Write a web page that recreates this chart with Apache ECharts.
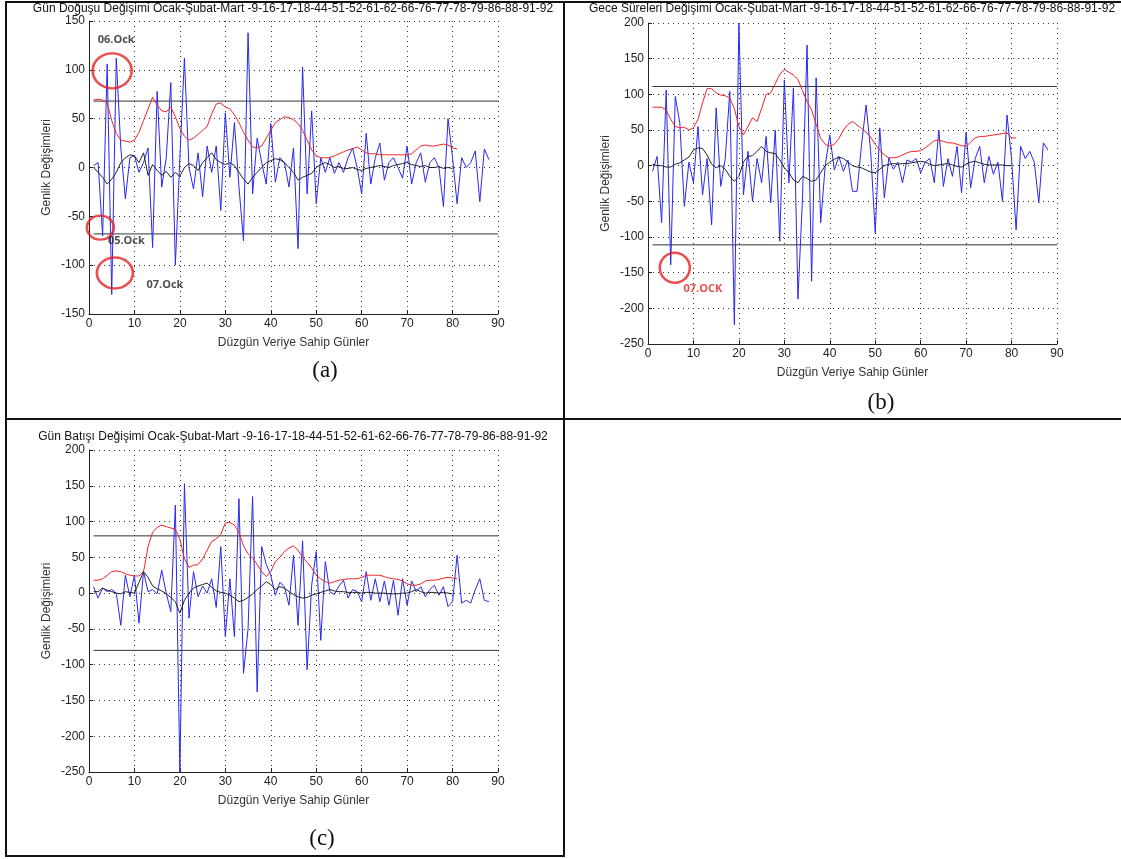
<!DOCTYPE html>
<html>
<head>
<meta charset="utf-8">
<script src="https://cdn.jsdelivr.net/npm/echarts@6/dist/echarts.min.js"></script>
<style>
html, body { margin: 0; padding: 0; background: #fff; }
#main { width: 1121px; height: 859px; }
</style>
</head>
<body>
<div id="main"></div>
<script>
// x = day index 1..N for every series
var xTicks = [0, 10, 20, 30, 40, 50, 60, 70, 80, 90];

// (a) Gün Doğuşu
var riseBlue = [2, 5, -70, 106, -130, 112, 20, -32, 10, 12, -5, 5, 20, -82, 78, -20, 10, 87, -100, 10,
    112, 0, -22, 15, -30, 22, -5, 22, -44, 56, -10, 46, -20, -75, 138, -27, 30, 5, -17, 45,
    -15, 10, 5, -20, 20, -83, 103, -27, 58, -37, 10, -5, 10, -6, 5, -5, 10, 20, 0, -27,
    35, -17, 10, 25, -13, 5, 10, 0, -11, 22, -17, 5, 15, -15, 5, 10, 0, -40, 50, 10,
    -37, 10, 0, 5, 17, -35, 19, 8];
var riseRed = [69, 70, 69, 66, 48, 35, 28, 27, 26, 28, 36, 48, 60, 72, 64, 58, 57, 62, 52, 40,
    32, 28, 30, 34, 38, 42, 55, 65, 66, 62, 60, 54, 46, 36, 28, 21, 20, 22, 30, 38,
    46, 49, 52, 51, 49, 45, 38, 28, 18, 12, 10, 10, 10, 12, 14, 16, 18, 19, 21, 18,
    15, 14, 14, 13, 13, 13, 13, 13, 13, 13, 14, 18, 22, 23, 22, 22, 23, 24, 23, 20, 19];
var riseBlack = [0, -5, -10, -17, -12, -5, 5, 10, 13, 12, 5, 15, -8, 3, -3, -8, -4, -10, -5, -9,
    0, 4, 2, -3, 5, 10, 15, 8, 5, 3, 5, 2, -5, -12, -17, -10, -5, 0, 5, 7,
    9, 8, 5, 0, -5, -13, -10, -8, -6, 0, 3, 5, 3, 0, 1, -1, -1, 0, -2, -3,
    -1, 0, 1, 2, 1, 0, 2, 3, 4, 5, 3, 2, 1, 2, 0, 0, 1, -1, 0, -1];
var riseLimit = 68;

// (b) Gece Süreleri
var nightBlue = [-8, 13, -80, 106, -139, 97, 60, -57, 5, -24, 55, -41, 10, -83, 81, -29, 10, 104, -223, 200,
    -41, 20, -50, 10, -24, 41, -52, 50, -106, 120, -24, 109, -187, -45, 169, -162, 123, -80, 0, 43,
    -6, 13, -8, 8, -36, -36, 30, 85, 20, -94, 53, -45, 11, -5, 5, -24, 8, 5, 10, -10,
    5, 10, -24, 50, -29, 10, -15, 27, -38, 47, -31, 10, 27, -24, 13, -12, 5, -50, 71, 10,
    -90, 27, 10, 20, 5, -52, 32, 22];
var nightRed = [82, 82, 82, 78, 65, 55, 53, 54, 50, 53, 65, 88, 108, 108, 102, 99, 98, 95, 80, 55,
    43, 55, 67, 62, 80, 100, 102, 115, 128, 135, 131, 127, 121, 105, 90, 78, 58, 38, 30, 27,
    30, 38, 50, 58, 62, 57, 52, 47, 40, 30, 22, 15, 11, 11, 12, 15, 18, 20, 20, 21,
    25, 30, 35, 36, 34, 32, 32, 30, 28, 27, 33, 39, 41, 41, 42, 43, 44, 45, 46, 39, 39];
var nightBlack = [2, 0, 0, -2, -2, 2, 4, 8, 12, 22, 25, 24, 15, 2, -3, 0, -5, -15, -22, -15,
    5, 13, 14, 20, 27, 20, 18, 17, 8, -3, -10, -20, -24, -15, -18, -22, -20, -10, 0, 5,
    9, 12, 10, 5, 0, -2, -3, -6, -9, -10, -5, 0, 2, 3, 2, 3, 3, 4, 5, 6,
    5, 2, 0, 1, 2, 3, 1, -1, -2, 2, 5, 6, 4, 2, 1, 1, 1, 1, 0, 0];
var nightLimit = 111;

// (c) Gün Batışı
var setBlue = [9, -7, 7, 2, 5, 0, -45, 25, -5, 25, -42, 30, 2, 5, -1, 32, 0, -26, 123, -250,
    153, -35, 30, -5, 10, 0, 20, -20, 65, -61, 20, -61, 132, -112, -50, 135, -138, 65, 40, 25,
    -3, 15, 9, -17, 53, -45, 73, -107, 11, 58, -66, 44, 2, -2, 10, 18, -7, 5, 2, -12,
    30, -10, 20, -12, 17, -17, 18, -31, 20, -17, 17, 2, 9, -5, 5, 11, -3, 9, -19, -12,
    53, -14, -10, -14, 5, 20, -10, -12];
var setRed = [18, 18, 20, 25, 30, 31, 30, 27, 25, 24, 24, 30, 65, 85, 92, 95, 93, 91, 89, 75,
    48, 36, 39, 40, 48, 60, 72, 76, 82, 98, 99, 95, 85, 66, 55, 49, 40, 30, 23, 30,
    44, 50, 58, 63, 66, 60, 50, 43, 35, 25, 20, 16, 14, 16, 18, 19, 20, 20, 20, 22,
    25, 25, 25, 25, 23, 21, 20, 19, 17, 13, 11, 11, 13, 17, 18, 18, 19, 21, 22, 21, 20];
var setBlack = [2, 2, 7, 4, 2, 0, -1, 2, 1, 0, 15, 30, 22, 10, 6, 3, -1, -6, -12, -28,
    -10, 0, 7, 10, 12, 14, 8, 3, 1, 0, -3, -7, -12, -10, -6, -1, 5, 10, 16, 12,
    5, 9, 7, 2, -2, -5, -7, -6, -3, -1, 1, 3, 5, 3, 2, 2, 1, 1, 1, 0,
    1, 1, 0, 0, 0, -1, -1, -1, 0, 0, 2, 5, 2, 0, 1, 1, 0, 1, 0, -1];
var setLimit = 80;
var limitSpan = [1, 90];

// marked days: [x, y, label]
var riseMarks = [[5.1, 99, '06.Ock'], [2.5, -61.5, '05.Ock'], [5.7, -108, '07.Ock']];
var nightMarks = [[5.9, -143, '07.OCK']];

var titleTail = ' Değişimi Ocak-Şubat-Mart -9-16-17-18-44-51-52-61-62-66-76-77-78-79-86-88-91-92';

function pairs(arr) {
    return arr.map(function (v, i) { return [i + 1, v]; });
}

var chart = echarts.init(document.getElementById('main'));

var grids = [
    { left: 89, top: 21, width: 409, height: 293 },
    { left: 648, top: 23, width: 409, height: 321 },
    { left: 89, top: 450, width: 409, height: 322 }
];

function xAx(g) {
    return {
        type: 'value', gridIndex: g, min: 0, max: 90, interval: 10,
        name: 'Düzgün Veriye Sahip Günler', nameLocation: 'middle', nameGap: 23,
        nameTextStyle: { fontSize: 12, color: '#333', fontFamily: 'Liberation Sans' },
        axisLine: { onZero: false, lineStyle: { color: '#222', width: 1 } },
        axisTick: { inside: true, length: 4, lineStyle: { color: '#222' } },
        axisLabel: { fontSize: 12, color: '#222', margin: 4, fontFamily: 'Liberation Sans' },
        splitLine: { show: true, lineStyle: { type: [1, 4], color: '#333', width: 1 } }
    };
}
function yAx(g, mn, mx) {
    return {
        type: 'value', gridIndex: g, min: mn, max: mx, interval: 50,
        name: 'Genlik Değişimleri', nameLocation: 'middle', nameGap: 36,
        nameTextStyle: { fontSize: 12, color: '#333', fontFamily: 'Liberation Sans' },
        axisLine: { onZero: false, lineStyle: { color: '#222', width: 1 } },
        axisTick: { inside: true, length: 4, lineStyle: { color: '#222' } },
        axisLabel: { fontSize: 12, color: '#222', margin: 4, fontFamily: 'Liberation Sans' },
        splitLine: { show: true, lineStyle: { type: [1, 4], color: '#333', width: 1 } }
    };
}

function lineS(g, data, color, z) {
    return {
        type: 'line', xAxisIndex: g, yAxisIndex: g, data: data,
        symbol: 'none', lineStyle: { color: color, width: 1 }, z: z,
        silent: true, animation: false
    };
}

function limitS(g, v) {
    return [
        lineS(g, limitSpan.map(function (x) { return [x, v]; }), '#333', 1),
        lineS(g, limitSpan.map(function (x) { return [x, -v]; }), '#333', 1)
    ];
}

function panel(g, blue, red, black, limit) {
    return [
        lineS(g, pairs(blue), '#2828f0', 3),
        lineS(g, pairs(red), '#f02424', 4),
        lineS(g, pairs(black), '#222', 5)
    ].concat(limitS(g, limit));
}

var circleSizes = [[39, 35], [27, 24], [36, 31]];
var labelOffsets = [[4, -31], [26, 13], [50, 12]];

var series = []
    .concat(panel(0, riseBlue, riseRed, riseBlack, riseLimit))
    .concat(panel(1, nightBlue, nightRed, nightBlack, nightLimit))
    .concat(panel(2, setBlue, setRed, setBlack, setLimit));

series.push({
    type: 'scatter', xAxisIndex: 0, yAxisIndex: 0, z: 10, animation: false,
    data: riseMarks.map(function (m, i) {
        return {
            value: [m[0], m[1]], symbolSize: circleSizes[i],
            label: {
                show: true, formatter: m[2], position: 'inside', offset: labelOffsets[i],
                fontSize: 11, fontWeight: 'bold', color: '#222', fontFamily: 'Open Sans'
            }
        };
    }),
    symbol: 'circle',
    itemStyle: { color: 'rgba(0,0,0,0)', borderColor: '#e52222', borderWidth: 2.5 }
});
series.push({
    type: 'scatter', xAxisIndex: 1, yAxisIndex: 1, z: 10, animation: false,
    data: nightMarks.map(function (m) {
        return {
            value: [m[0], m[1]], symbolSize: [30, 30],
            label: {
                show: true, formatter: m[2], position: 'inside', offset: [28, 21],
                fontSize: 11, fontWeight: 'bold', color: '#e52222', fontFamily: 'Open Sans'
            }
        };
    }),
    symbol: 'circle',
    itemStyle: { color: 'rgba(0,0,0,0)', borderColor: '#e52222', borderWidth: 2.5 }
});

var border = { stroke: '#111', lineWidth: 2 };
function hline(x1, x2, y) {
    return { type: 'line', shape: { x1: x1, y1: y, x2: x2, y2: y }, style: border, silent: true };
}
function vline(x, y1, y2) {
    return { type: 'line', shape: { x1: x, y1: y1, x2: x, y2: y2 }, style: border, silent: true };
}
function txt(x, y, s, size, family, align) {
    return {
        type: 'text', x: x, y: y, silent: true,
        style: { text: s, fontSize: size, fontFamily: family, fill: '#111', align: align || 'center', verticalAlign: 'middle' }
    };
}

var option = {
    backgroundColor: '#fff',
    animation: false,
    grid: grids,
    xAxis: [xAx(0), xAx(1), xAx(2)],
    yAxis: [yAx(0, -150, 150), yAx(1, -250, 200), yAx(2, -250, 200)],
    series: series,
    graphic: [
        hline(5, 1121, 2), hline(5, 1121, 419), hline(5, 564, 856),
        vline(6, 2, 857), vline(564, 2, 857),
        txt(293, 9, 'Gün Doğuşu' + titleTail, 12, 'Liberation Sans'),
        txt(852, 9, 'Gece Süreleri' + titleTail, 12, 'Liberation Sans'),
        txt(293, 437, 'Gün Batışı' + titleTail, 12, 'Liberation Sans'),
        txt(325, 371, '(a)', 23, 'Liberation Serif'),
        txt(881, 403, '(b)', 23, 'Liberation Serif'),
        txt(322, 839, '(c)', 23, 'Liberation Serif')
    ]
};

chart.setOption(option);
</script>
</body>
</html>
